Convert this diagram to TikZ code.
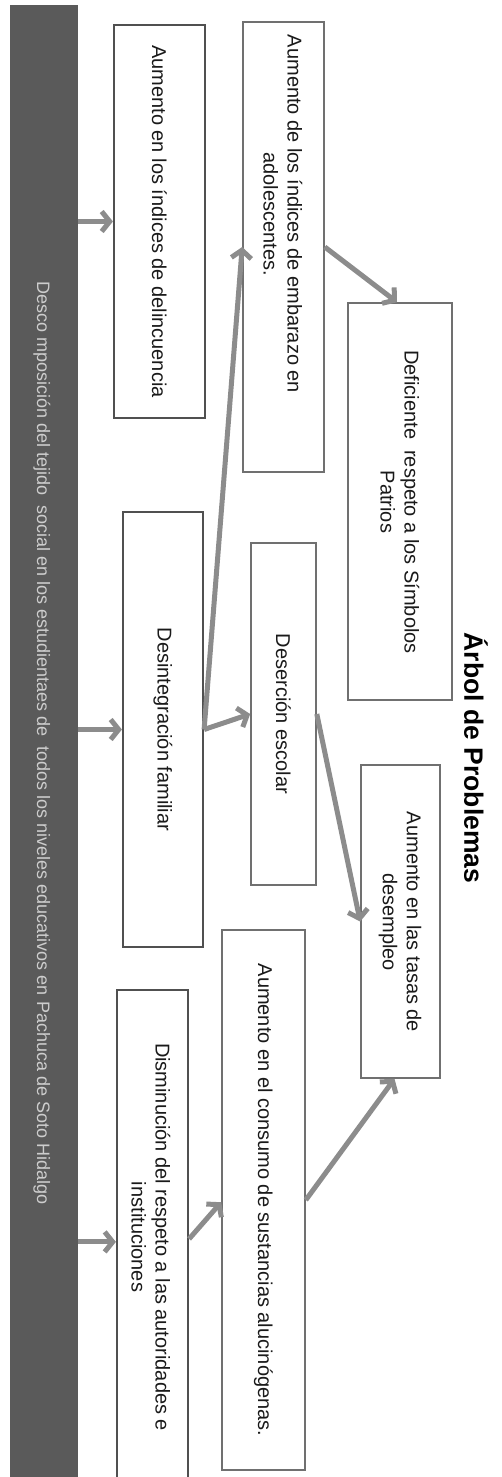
\documentclass[tikz,border=0pt]{standalone}
\usepackage{fontspec}
\setmainfont{Liberation Sans}
\usetikzlibrary{arrows.meta,calc}
\definecolor{barcol}{HTML}{5A5A5A}
\definecolor{bartext}{HTML}{CDCDCD}
\definecolor{edgecol}{HTML}{707070}
\definecolor{edgedark}{HTML}{505050}
\definecolor{arrcol}{HTML}{8C8C8C}
\definecolor{txtcol}{HTML}{1A1A1A}
\begin{document}
\begin{tikzpicture}[x=1pt,y=-1pt,
  box/.style={draw=edgecol, line width=1.6pt, fill=white, inner sep=0pt},
  boxdark/.style={box, draw=edgedark, line width=2.2pt},
  lbl/.style={rotate=-90, align=center, text=txtcol, font=\fontsize{20}{24}\selectfont, inner sep=0pt},
  arr/.style={draw=arrcol, line width=5pt, -{Straight Barb[length=8pt,width=20pt,line width=5pt]}},
]
\useasboundingbox (0,0) rectangle (501,1477);
\clip (0,0) rectangle (501,1477);
\fill[white] (0,0) rectangle (501,1477);

% dark bar
\node[fill=barcol, minimum width=68pt, minimum height=1480pt, inner sep=0pt, anchor=north] (bar) at (44,5) {};
\node[rotate=-90, text=bartext, font=\fontsize{18}{20}\selectfont, inner sep=0pt] (bartxt) at (42,743)
  {Desco mposición del tejido\ \ social en los estudientaes de\ \ todos los niveles educativos en Pachuca de Soto Hidalgo};

% title
\node[rotate=-90, text=black, font=\bfseries\fontsize{26.5}{30}\selectfont, inner sep=0pt] (title) at (476,758) {Árbol de Problemas};

% boxes
\node[boxdark, minimum width=91pt, minimum height=393pt] (b1) at (159.5,221.5) {};
\node[box, minimum width=81pt, minimum height=450pt] (b2) at (283.5,247) {};
\node[box, minimum width=104pt, minimum height=397pt] (b3) at (400,501.5) {};
\node[boxdark, minimum width=80pt, minimum height=435pt] (b4) at (163,729.5) {};
\node[box, minimum width=65pt, minimum height=342pt] (b5) at (283.5,714) {};
\node[box, minimum width=79pt, minimum height=313pt] (b6) at (400.5,921.5) {};
\node[box, minimum width=83pt, minimum height=540pt] (b7) at (263.5,1200) {};
\node[boxdark, minimum width=71pt, minimum height=530pt] (b8) at (152.5,1255) {};

% labels
\node[lbl] (t1) at (b1) {Aumento en los índices de delincuencia};
\node[lbl] (t2) at (283,214) {Aumento de los índices de embarazo en\\adolescentes.};
\node[lbl] (t3) at (400,502) {Deficiente\ \ respeto a los Símbolos\\Patrios};
\node[lbl] (t4) at (b4) {Desintegración familiar};
\node[lbl] (t5) at (b5) {Deserción escolar};
\node[lbl] (t6) at (400,922) {Aumento en las tasas de\\desempleo};
\node[lbl] (t7) at (b7) {Aumento en el consumo de sustancias alucinógenas.};
\node[lbl] (t8) at (151,1237) {Disminución del respeto a las autoridades e\\instituciones};

% connector end points
\coordinate (b8in) at ($(b8.north west)+(0,253)$);
\coordinate (b8out) at ($(b8.north east)+(0,250)$);
\coordinate (b7in) at ($(b7.north west)+(0,273)$);
\coordinate (b6in) at ($(b6.south)+(-6,0)$);
\coordinate (b3in) at ($(b3.north)+(-3,0)$);

% connectors
\draw[arr] (bar.east |- b1.west) -- (b1.west);
\draw[arr] (bar.east |- b4.west) -- (b4.west);
\draw[arr] (bar.east |- b8in) -- (b8in);
\draw[arr] (b4.east) -- (b2.west);
\draw[arr] (b4.east) -- (b5.west);
\draw[arr] (b2.east) -- (b3in);
\draw[arr] (b5.east) -- (b6.west);
\draw[arr] (b8out) -- (b7in);
\draw[arr] (b7.east) -- (b6in);
\end{tikzpicture}
\end{document}
